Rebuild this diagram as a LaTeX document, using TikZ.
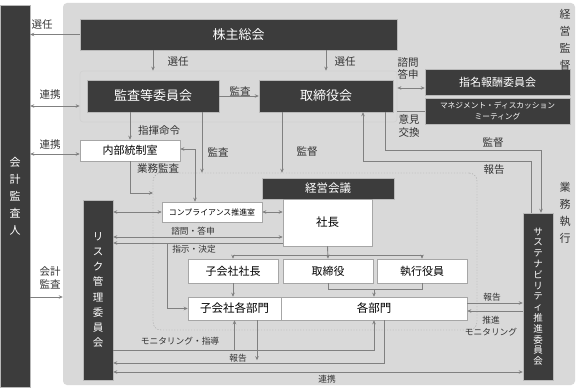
\documentclass[tikz,border=0pt]{standalone}
\usepackage{fontspec}
\setmainfont{Noto Sans CJK JP}
\usepackage{xcolor}
\usetikzlibrary{arrows.meta,positioning}
\definecolor{boxdark}{HTML}{3C3C3C}
\definecolor{bggray}{HTML}{D9D9D9}
\definecolor{linegray}{HTML}{808080}
\definecolor{labelgray}{HTML}{333333}

\begin{document}
\begin{tikzpicture}[x=1pt,y=-1pt,
  darkbox/.style={fill=boxdark,draw=gray!55,line width=0.4pt,text=white,inner sep=0pt,font=\fontsize{13}{15}\selectfont},
  whitebox/.style={fill=white,draw=gray!70,line width=0.5pt,text=black,inner sep=0pt,font=\fontsize{11}{13}\selectfont},
  lbl/.style={text=labelgray,inner sep=0pt,font=\fontsize{10.5}{12.5}\selectfont},
  lblsmall/.style={lbl,font=\fontsize{8.7}{11.5}\selectfont},
  vtext/.style={align=center,font=\fontsize{11}{17}\selectfont},
  conn/.style={draw=linegray,line width=0.9pt},
  >={Stealth[length=4pt,width=3.5pt]}]
\useasboundingbox (0,0) rectangle (578,390);
% Draw company background and auditor
\node[fill=bggray,rounded corners=4pt,minimum width=512pt,minimum height=382pt,inner sep=0pt] (company) at (319,194) {};
\node[darkbox,vtext,minimum width=30pt,minimum height=382pt] (auditor) at (15,196) {会\\計\\監\\査\\人};
% Draw governance boxes
\node[darkbox,minimum width=317pt,minimum height=31pt] (agm) at (238.5,34.5) {株主総会};
\node[draw=gray!35,line width=0.7pt,rounded corners=3pt,minimum width=317pt,minimum height=51pt] (group) at (238.5,96.5) {};
\node[darkbox,minimum width=132pt,minimum height=32pt] (acb) at (153,96) {監査等委員会};
\node[darkbox,minimum width=134pt,minimum height=32pt] (board) at (326,96) {取締役会};
\node[darkbox,minimum width=145pt,minimum height=26pt,font=\fontsize{11}{13}\selectfont] (nomcom) at (497.5,82) {指名報酬委員会};
\node[darkbox,minimum width=145pt,minimum height=26pt,align=center,font=\fontsize{7.7}{11}\selectfont] (mdm) at (497.5,111) {マネジメント・ディスカッション\\ミーティング};
\node[whitebox,minimum width=100pt,minimum height=21pt] (ico) at (130,150.5) {内部統制室};
% Draw execution area
\node[draw=gray!75,dash pattern=on 1.2pt off 1.6pt,rounded corners=8pt,minimum width=324pt,minimum height=157pt,inner sep=0pt] (exec) at (315,251.5) {};
\node[darkbox,minimum width=132pt,minimum height=21pt,font=\fontsize{11.5}{13}\selectfont] (mgmt) at (328,188.5) {経営会議};
\node[whitebox,minimum width=89pt,minimum height=47pt,font=\fontsize{11.5}{13}\selectfont] (pres) at (327.5,222.5) {社長};
\node[whitebox,minimum width=100pt,minimum height=20pt,font=\fontsize{7.9}{9}\selectfont] (comp) at (212,212) {コンプライアンス推進室};
\node[darkbox,align=center,minimum width=30pt,minimum height=180pt,font=\fontsize{10.5}{15.2}\selectfont] (risk) at (98,290) {リ\\ス\\ク\\管\\理\\委\\員\\会};
\node[whitebox,minimum width=90pt,minimum height=24pt] (subpres) at (233,271) {子会社社長};
\node[whitebox,minimum width=90pt,minimum height=24pt] (dirs) at (328,271) {取締役};
\node[whitebox,minimum width=90pt,minimum height=24pt] (offs) at (422,271) {執行役員};
\node[whitebox,minimum width=93pt,minimum height=23pt,font=\fontsize{11.5}{13}\selectfont] (subdiv) at (234.5,308.5) {子会社各部門};
\node[whitebox,minimum width=186pt,minimum height=23pt,font=\fontsize{11.5}{13}\selectfont] (divs) at (374,308.5) {各部門};
\node[darkbox,align=center,minimum width=30pt,minimum height=167pt,font=\fontsize{9.5}{10.8}\selectfont] (sus) at (538,296.5) {サ\\ス\\テ\\ナ\\ビ\\リ\\テ\\ィ\\推\\進\\委\\員\\会};
% Draw connectors (top)
\draw[conn,->] (agm.west) -- (agm.west -| auditor.east);
\draw[conn,->] (acb |- agm.south) -- (acb |- group.north);
\draw[conn,->] (board |- agm.south) -- (board |- group.north);
\draw[conn,->] (acb.east) -- (board.west);
\draw[conn,<->] ([yshift=-9.5pt]group.west) -- ([yshift=-9.5pt]group.west -| auditor.east);
\draw[conn,<->] ([yshift=-6pt]nomcom.west) -- ([yshift=-6pt]nomcom.west -| group.east);
\draw[conn] (mdm.west) -- (mdm.west -| group.east);
\draw[conn,<->] ([yshift=-3.5pt]ico.west) -- ([yshift=-3.5pt]ico.west -| auditor.east);
\draw[conn,->] (ico |- acb.south) -- (ico.north);
\coordinate (execin) at (153,193);
\draw[conn,->] (ico.south) |- (execin);
\draw[conn,<->] ([yshift=1.5pt]ico.east) -| ([xshift=-17pt]comp.north);
\draw[conn,->] ([xshift=49pt]acb.south) -- ([xshift=49pt]acb.south |- exec.north);
\draw[conn,->] ([xshift=-44pt]board.south) -- ([xshift=-44pt]board.south |- exec.north);
\draw[conn,->] ([xshift=59pt]board.south) -- ++(0,38) -| ([xshift=3pt]sus.north);
\draw[conn,->] ([xshift=-7pt]sus.north) -- ++(0,-51) -| ([xshift=37pt]board.south);
% Draw connectors (execution)
\draw[conn,<->] (comp.east) -- (comp.east -| pres.west);
\draw[conn,<->] (comp.west) -- (comp.west -| risk.east);
\draw[conn,<->] ([yshift=-14.5pt]pres.west) -- ([yshift=-14.5pt]pres.west -| risk.east);
\draw[conn,->] ([yshift=-20.5pt]pres.west) -- ([yshift=-20.5pt]pres.west -| risk.east);
\coordinate (order) at (167,243);
\draw[conn,->] (order) |- (subdiv.west);
\draw[conn,->] (pres.south) -- (dirs.north);
\draw[conn,->] ([yshift=-9pt]pres.south) -| (subpres.north);
\draw[conn,->] ([yshift=-9pt]pres.south) -| (offs.north);
\draw[conn,->] (subpres.south) -- (subpres.south |- subdiv.north);
\coordinate (dbus) at ([yshift=-6pt]dirs.south);
\draw[conn] (dirs.south) -- (dbus) -| (offs.south);
\draw[conn,->] (dbus -| divs.north) -- (divs.north);
% Draw connectors (bottom)
\coordinate (mon) at ([yshift=-60pt]risk.east);
\draw[conn,->] (mon) -| (divs.south);
\draw[conn,->] (mon -| subdiv.south) -- (subdiv.south);
\draw[conn,->] ([xshift=10pt]divs.south) |- ([yshift=-73pt]risk.east);
\draw[conn,->] ([xshift=22.5pt]subdiv.south) -- ++(0,40);
\draw[conn,<->] ([yshift=-82pt]risk.east) -- ([yshift=-82pt]risk.east -| sus.west);
\draw[conn,->] ([yshift=5.5pt]divs.east) -- ([yshift=5.5pt]divs.east -| sus.west);
\draw[conn,<-] ([yshift=-2.5pt]divs.east) -- ([yshift=-2.5pt]divs.east -| sus.west);
\draw[conn,->] ([yshift=-101pt]auditor.east) -- ([yshift=-101pt]auditor.east -| company.west);
% Labels
\node[lbl] (t-sel0) at (42,25) {選任};
\node[lbl] (t-sel1) at (178,62) {選任};
\node[lbl] (t-sel2) at (345,62) {選任};
\node[lbl] (t-aud0) at (240,91) {監査};
\node[lbl] (t-coop0) at (50,95) {連携};
\node[lbl,align=center] (t-consult) at (408,68.5) {諮問\\答申};
\node[lbl,align=center] (t-opinion) at (409,126) {意見\\交換};
\node[lbl] (t-coop1) at (50,145) {連携};
\node[lbl] (t-command) at (159,131) {指揮命令};
\node[lbl] (t-opaudit) at (158,169) {業務監査};
\node[lbl] (t-aud1) at (218,152) {監査};
\node[lbl] (t-sup0) at (307,152) {監督};
\node[lbl] (t-sup1) at (493,143) {監督};
\node[lbl] (t-rep0) at (494,170) {報告};
\node[lblsmall] (t-consult2) at (193,231) {諮問・答申};
\node[lblsmall] (t-instr) at (194,249) {指示・決定};
\node[lbl,align=center] (t-acc) at (50,278) {会計\\監査};
\node[lblsmall] (t-rep1) at (492,297) {報告};
\node[lblsmall,align=center] (t-promo) at (491,326) {推進\\モニタリング};
\node[lblsmall] (t-mon) at (180,341) {モニタリング・指導};
\node[lblsmall] (t-rep2) at (238,358) {報告};
\node[lblsmall] (t-coop2) at (327,379) {連携};
\node[lbl,vtext] (t-oversight) at (565,40) {経\\営\\監\\督};
\node[lbl,vtext] (t-execute) at (565,213) {業\\務\\執\\行};
\end{tikzpicture}
\end{document}
